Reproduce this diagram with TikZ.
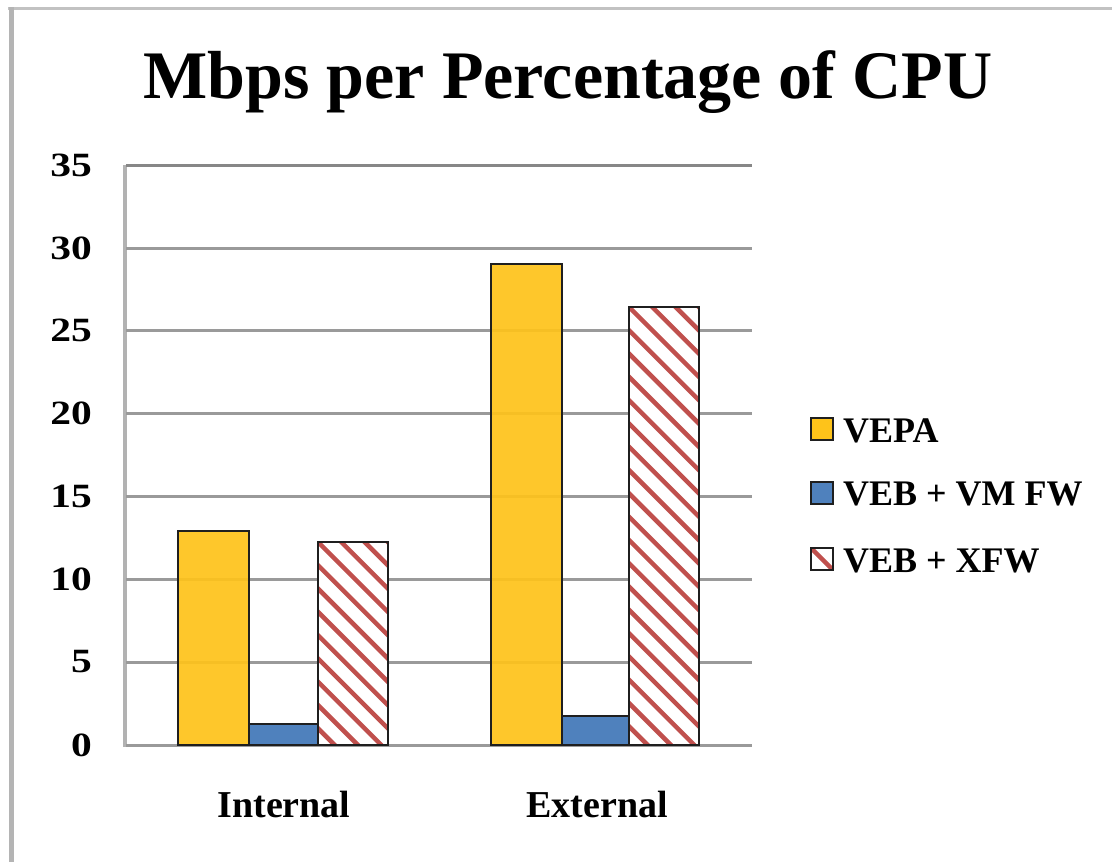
\documentclass[tikz,border=0pt]{standalone}
\usepackage{fontspec}
\setmainfont{Liberation Serif}
\definecolor{vepa}{HTML}{FEC31A}
\definecolor{vmfw}{HTML}{4F81BD}
\definecolor{xfw}{HTML}{C0504D}
\definecolor{gridgray}{HTML}{9A9A9A}
\definecolor{framegray}{HTML}{B4B4B4}
% striped (hatched) bar: #1 left, #2 right, #3 top, #4 bottom
\newcommand\stripedbar[4]{%
  \begin{scope}
    \clip (#1,#3) rectangle (#2,#4);
    \fill[white] (#1,#3) rectangle (#2,#4);
    \foreach \k in {-5,...,22}
      \draw[stripe] (#1-5,#3+\k*23.3-5) -- ++(500,500);
  \end{scope}
  \draw[barline] (#1,#3) rectangle (#2,#4);
}
% wide axis digits
\newcommand\widedigits[1]{\scalebox{1.22}[1]{#1}}
\begin{document}
\begin{tikzpicture}[x=1pt,y=-1pt,
  grid/.style={draw=gridgray,line width=3pt},
  tick/.style={anchor=east,inner sep=0pt,font=\fontsize{34}{40}\selectfont\bfseries},
  catlabel/.style={anchor=base,inner sep=0pt,font=\fontsize{38}{44}\selectfont\bfseries},
  legtext/.style={anchor=base west,inner sep=0pt,font=\fontsize{36}{42}\selectfont\bfseries},
  barline/.style={draw=black!88,line width=2.5pt},
  stripe/.style={draw=xfw,line width=4.5pt},
]
\useasboundingbox (0,0) rectangle (1112,862);
\fill[white] (0,0) rectangle (1112,862);

% chart frame (top and left edges)
\draw[draw=framegray!85!black!60,line width=3pt] (8,8.5) -- (1112,8.5);
\draw[draw=framegray,line width=5pt] (11,7) -- (11,862);

% title
\node[anchor=base,inner sep=0pt,font=\fontsize{68}{80}\selectfont\bfseries]
  (title) at (568,98) {Mbps per Percentage of CPU};

% value axis and gridlines
\draw[draw=black!30,line width=4pt] (125,165) -- (125,747);
\foreach \yy/\lab in {745/0,662/5,579/10,496/15,413/20,330/25,248/30} {
  \draw[grid] (126,\yy) -- (752,\yy);
  \node[tick] (tick\lab) at (92,\yy) {\widedigits{\lab}};
}
\draw[grid,draw=black!47] (126,165) -- (752,165);
\node[tick] (tick35) at (92,165) {\widedigits{35}};

% Internal
\fill[vepa,fill opacity=0.92] (178,531) rectangle (249,745);
\draw[barline] (178,531) rectangle (249,745);
\fill[vmfw] (249,724) rectangle (318,745);
\draw[barline] (249,724) rectangle (318,745);
\stripedbar{318}{388}{542}{745}

% External
\fill[vepa,fill opacity=0.92] (491,264) rectangle (562,745);
\draw[barline] (491,264) rectangle (562,745);
\fill[vmfw] (562,716) rectangle (629,745);
\draw[barline] (562,716) rectangle (629,745);
\stripedbar{629}{699}{307}{745}

% category labels
\node[catlabel] (internal) at (284,817) {Internal};
\node[catlabel] (external) at (597,817) {External};

% legend
\fill[vepa] (811,418) rectangle (833,440);
\draw[barline] (811,418) rectangle (833,440);
\node[legtext] (legvepa) at (843,442) {VEPA};

\fill[vmfw] (811,482) rectangle (833,504);
\draw[barline] (811,482) rectangle (833,504);
\node[legtext] (legvmfw) at (843,505) {VEB + VM FW};

\stripedbar{811}{833}{548}{570}
\node[legtext] (legxfw) at (843,572) {VEB + XFW};
\end{tikzpicture}
\end{document}
